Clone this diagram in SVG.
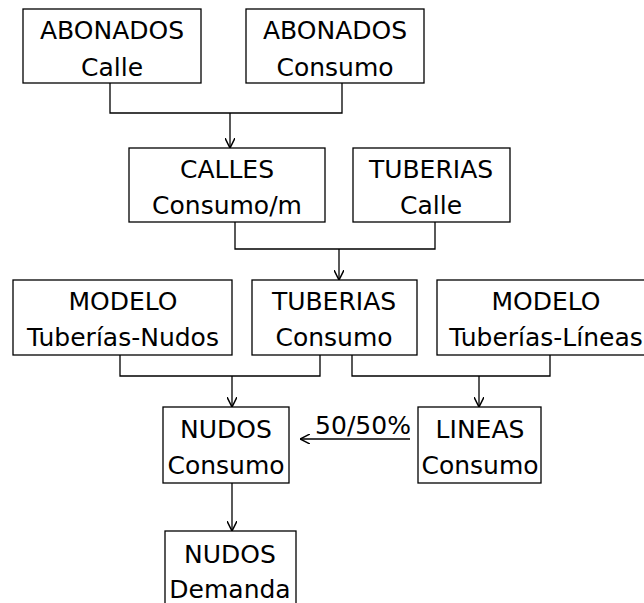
<svg xmlns="http://www.w3.org/2000/svg" width="644" height="603" viewBox="0 0 644 603">
<style>
.box{fill:#fff;stroke:#000;stroke-width:1.3}
.t{font-family:"Comic Sans MS","DejaVu Sans",sans-serif;font-size:25px;fill:#000;text-anchor:middle}
.c{fill:none;stroke:#000;stroke-width:1.3}
</style>
<defs>
<marker id="ah" viewBox="0 0 10 10" refX="10" refY="5" markerWidth="10" markerHeight="10" markerUnits="userSpaceOnUse" orient="auto">
<path d="M0,0 L10,5 L0,10" fill="none" stroke="#000" stroke-width="1.5"/>
</marker>
</defs>
<rect width="644" height="603" fill="#fff"/>
<g id="connectors">
<path class="c" d="M110,83 V113 H342 V83"/>
<path class="c" d="M230,113 V148" marker-end="url(#ah)"/>
<path class="c" d="M235,222 V249 H435 V222"/>
<path class="c" d="M339,249 V280" marker-end="url(#ah)"/>
<path class="c" d="M120,355 V376 H320 V355"/>
<path class="c" d="M232,376 V407" marker-end="url(#ah)"/>
<path class="c" d="M352,355 V376 H550 V355"/>
<path class="c" d="M479,376 V407" marker-end="url(#ah)"/>
<path class="c" d="M410,439 H300" marker-end="url(#ah)"/>
<path class="c" d="M232,483 V531" marker-end="url(#ah)"/>
</g>
<g id="label-5050"><text class="t" x="363" y="434">50/50%</text></g>
<g id="abonados-calle"><rect class="box" x="23" y="9" width="178" height="74"/><text class="t" x="112" y="39">ABONADOS</text><text class="t" x="112" y="76">Calle</text></g>
<g id="abonados-consumo"><rect class="box" x="246" y="9" width="178" height="74"/><text class="t" x="335" y="39">ABONADOS</text><text class="t" x="335" y="76">Consumo</text></g>
<g id="calles-consumo"><rect class="box" x="129" y="148" width="196" height="74"/><text class="t" x="227" y="178">CALLES</text><text class="t" x="227" y="214">Consumo/m</text></g>
<g id="tuberias-calle"><rect class="box" x="353" y="148" width="157" height="74"/><text class="t" x="431" y="178">TUBERIAS</text><text class="t" x="431" y="214">Calle</text></g>
<g id="modelo-nudos"><rect class="box" x="13" y="280" width="219" height="75"/><text class="t" x="123" y="310">MODELO</text><text class="t" x="123" y="346">Tuberías-Nudos</text></g>
<g id="tuberias-consumo"><rect class="box" x="252" y="280" width="165" height="75"/><text class="t" x="334" y="310">TUBERIAS</text><text class="t" x="334" y="346">Consumo</text></g>
<g id="modelo-lineas"><rect class="box" x="437" y="280" width="220" height="75"/><text class="t" x="546" y="310">MODELO</text><text class="t" x="546" y="346">Tuberías-Líneas</text></g>
<g id="nudos-consumo"><rect class="box" x="163" y="407" width="126" height="76"/><text class="t" x="226" y="438">NUDOS</text><text class="t" x="226" y="474">Consumo</text></g>
<g id="lineas-consumo"><rect class="box" x="418" y="407" width="123" height="76"/><text class="t" x="480" y="438">LINEAS</text><text class="t" x="480" y="474">Consumo</text></g>
<g id="nudos-demanda"><rect class="box" x="165" y="531" width="131" height="90"/><text class="t" x="230" y="563">NUDOS</text><text class="t" x="230" y="598">Demanda</text></g>
</svg>
